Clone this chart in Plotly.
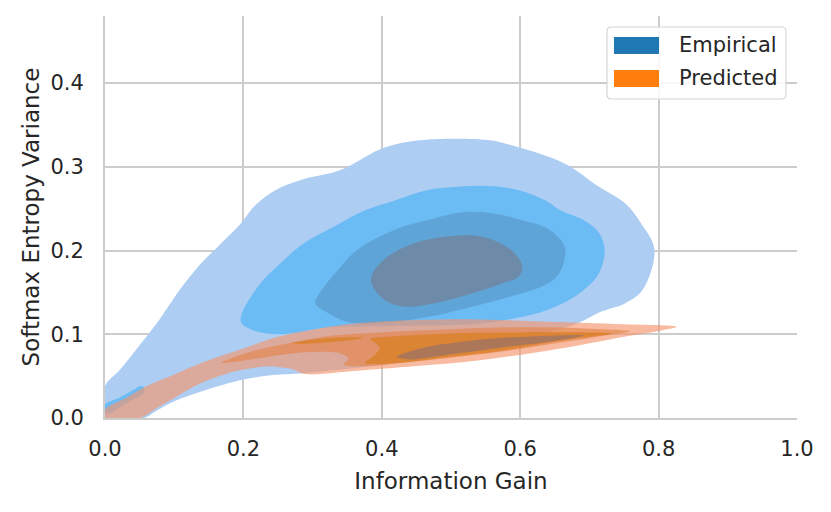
import plotly.graph_objects as go

# contour outlines (x = information gain, y = softmax entropy variance)
# Empirical, outermost level
emp_l1_x = [0, 0.022, 0.051, 0.079, 0.108, 0.137, 0.166, 0.195, 0.217, 0.246, 0.282, 0.340, 0.398, 0.448,
            0.553, 0.586, 0.664, 0.714, 0.752, 0.775, 0.794, 0.777, 0.752, 0.714, 0.686, 0.642, 0.586,
            0.476, 0.365, 0.28, 0.24, 0.2, 0.14, 0.10, 0.075, 0.056, 0]
emp_l1_y = [0.038, 0.058, 0.088, 0.118, 0.153, 0.183, 0.207, 0.231, 0.254, 0.272, 0.284, 0.296, 0.321, 0.331,
            0.332, 0.326, 0.304, 0.276, 0.256, 0.232, 0.201, 0.153, 0.137, 0.126, 0.114, 0.102, 0.088,
            0.072, 0.060, 0.053, 0.051, 0.046, 0.032, 0.020, 0.009, 0, 0]
# Empirical, level 2 (main body + small blob near the origin)
emp_l2_x = [0.196, 0.221, 0.254, 0.288, 0.332, 0.376, 0.420, 0.465, 0.509, 0.553, 0.598, 0.636, 0.658,
            0.692, 0.714, 0.722, 0.714, 0.686, 0.642, 0.586, 0.531, 0.420, 0.321, 0.254, 0.210]
emp_l2_y = [0.116, 0.157, 0.185, 0.209, 0.229, 0.248, 0.260, 0.272, 0.276, 0.277, 0.272, 0.260, 0.248,
            0.236, 0.221, 0.201, 0.173, 0.149, 0.130, 0.118, 0.112, 0.110, 0.108, 0.100, 0.106]
emp_blob_x = [0, 0, 0.02, 0.04, 0.05, 0.056, 0.056, 0.04, 0.02, 0.005]
emp_blob_y = [0.006, 0.016, 0.024, 0.033, 0.038, 0.037, 0.030, 0.022, 0.012, 0.005]
# Empirical, level 3
emp_l3_x = [0.304, 0.310, 0.337, 0.365, 0.420, 0.465, 0.520, 0.564, 0.603, 0.642, 0.664, 0.664, 0.653,
            0.631, 0.586, 0.531, 0.476, 0.409, 0.354, 0.321]
emp_l3_y = [0.137, 0.149, 0.177, 0.201, 0.225, 0.236, 0.246, 0.244, 0.236, 0.225, 0.205, 0.189, 0.169,
            0.157, 0.145, 0.133, 0.122, 0.114, 0.114, 0.126]
# Empirical, level 4
emp_l4_x = [0.385, 0.387, 0.409, 0.448, 0.498, 0.542, 0.570, 0.592, 0.603, 0.598, 0.575, 0.531, 0.476,
            0.432, 0.404]
emp_l4_y = [0.161, 0.173, 0.193, 0.209, 0.217, 0.217, 0.209, 0.197, 0.181, 0.169, 0.161, 0.149, 0.137,
            0.133, 0.141]

# Predicted, outermost level
pred_l1_x = [0, 0.03, 0.06, 0.10, 0.14, 0.20, 0.25, 0.31, 0.365, 0.45, 0.53, 0.64, 0.75, 0.826,
             0.80, 0.75, 0.686, 0.62, 0.542, 0.45, 0.36, 0.30, 0.285, 0.272, 0.25, 0.225, 0.19,
             0.14, 0.10, 0.075, 0.05, 0]
pred_l1_y = [0.010, 0.024, 0.038, 0.052, 0.066, 0.083, 0.097, 0.107, 0.113, 0.117, 0.118, 0.115, 0.112, 0.109,
             0.104, 0.097, 0.087, 0.078, 0.069, 0.062, 0.056, 0.052, 0.053, 0.058, 0.061, 0.061, 0.056,
             0.042, 0.024, 0.012, 0, 0]
# Predicted, level 2
pred_l2_x = [0.169, 0.21, 0.272, 0.33, 0.402, 0.50, 0.571, 0.65, 0.72, 0.759, 0.72, 0.65, 0.571, 0.50,
             0.43, 0.38, 0.345, 0.352, 0.34, 0.31, 0.27, 0.22]
pred_l2_y = [0.066, 0.079, 0.0905, 0.0985, 0.1025, 0.106, 0.108, 0.108, 0.106, 0.1035, 0.098, 0.089, 0.079, 0.072,
             0.066, 0.062, 0.064, 0.071, 0.077, 0.079, 0.077, 0.071]
# Predicted, level 3 (main body + thin streak)
pred_l3_x = [0.383, 0.426, 0.50, 0.571, 0.65, 0.71, 0.732, 0.70, 0.64, 0.571, 0.50, 0.44, 0.39, 0.376,
             0.388, 0.397, 0.392]
pred_l3_y = [0.094, 0.098, 0.101, 0.102, 0.1025, 0.102, 0.1007, 0.097, 0.090, 0.080, 0.073, 0.067, 0.0645, 0.066,
             0.074, 0.083, 0.089]
pred_streak_x = [0.27, 0.30, 0.34, 0.373, 0.35, 0.31, 0.28]
pred_streak_y = [0.0895, 0.0935, 0.096, 0.0958, 0.0925, 0.0895, 0.0885]
# Predicted, level 4
pred_l4_x = [0.422, 0.46, 0.51, 0.571, 0.63, 0.692, 0.65, 0.571, 0.50, 0.44]
pred_l4_y = [0.073, 0.084, 0.0905, 0.0955, 0.098, 0.0985, 0.092, 0.084, 0.076, 0.070]

series_names = ["Empirical", "Predicted"]
series_colors = ["#1f77b4", "#ff7f0e"]

fig = go.Figure()


def blob(xs, ys, color):
    fig.add_trace(go.Scatter(x=xs + xs[:1], y=ys + ys[:1], mode="lines", fill="toself",
                             fillcolor=color, line=dict(width=0, shape="spline", smoothing=1),
                             hoverinfo="skip", showlegend=False))


blob(emp_l1_x, emp_l1_y, "#adcdf3")
blob(emp_l2_x, emp_l2_y, "#6bbbf5")
blob(emp_blob_x, emp_blob_y, "#6bbbf5")
blob(emp_l3_x, emp_l3_y, "#5fa4d6")
blob(emp_l4_x, emp_l4_y, "#6d8ba8")

blob(pred_l1_x, pred_l1_y, "rgba(244,150,110,0.65)")
blob(pred_l2_x, pred_l2_y, "rgba(228,130,70,0.6)")
blob(pred_l3_x, pred_l3_y, "rgba(215,125,25,0.65)")
blob(pred_streak_x, pred_streak_y, "rgba(215,125,25,0.65)")
blob(pred_l4_x, pred_l4_y, "rgba(140,110,115,0.6)")

# legend drawn by hand (matplotlib style: wide patches in a rounded box)
shapes = []
x0, x1, y0, y1, r = 0.7254, 0.984, 0.7935, 0.9726, 0.006
ry = r * 692 / 402
shapes.append(dict(
    type="path", xref="paper", yref="paper", layer="above",
    path=(f"M{x0 + r},{y0} L{x1 - r},{y0} Q{x1},{y0} {x1},{y0 + ry} L{x1},{y1 - ry} Q{x1},{y1} {x1 - r},{y1} "
          f"L{x0 + r},{y1} Q{x0},{y1} {x0},{y1 - ry} L{x0},{y0 + ry} Q{x0},{y0} {x0 + r},{y0} Z"),
    fillcolor="rgba(255,255,255,0.85)", line=dict(color="#d6d6d6", width=1.2)))
annotations = []
for i, (name, col) in enumerate(zip(series_names, series_colors)):
    top = 0.9478 - i * 0.0821
    shapes.append(dict(type="rect", xref="paper", yref="paper", layer="above",
                       x0=0.7355, x1=0.8006, y0=top - 0.0423, y1=top,
                       fillcolor=col, line=dict(width=0)))
    annotations.append(dict(x=0.8266, y=top - 0.021, xref="paper", yref="paper", text=name,
                            showarrow=False, xanchor="left", yanchor="middle",
                            font=dict(size=21, color="#262626")))

fig.update_layout(
    width=831, height=512, autosize=False,
    margin=dict(l=105, r=34, t=16, b=94),
    plot_bgcolor="white", paper_bgcolor="white",
    font=dict(family="DejaVu Sans", color="#262626"),
    shapes=shapes, annotations=annotations,
    showlegend=False,
)
fig.update_xaxes(range=[0, 1], dtick=0.2, tickformat=".1f", showgrid=True, gridcolor="#cccccc",
                 gridwidth=1.6, zeroline=False, showline=True, linecolor="#cccccc", linewidth=1.8,
                 ticks="outside", ticklen=11, tickcolor="rgba(0,0,0,0)", tickfont=dict(size=21),
                 title=dict(text="Information Gain", font=dict(size=23), standoff=13))
fig.update_yaxes(range=[0, 0.48], dtick=0.1, tickformat=".1f", showgrid=True, gridcolor="#cccccc",
                 gridwidth=1.6, zeroline=False, showline=True, linecolor="#cccccc", linewidth=1.8,
                 ticks="outside", ticklen=15, tickcolor="rgba(0,0,0,0)", tickfont=dict(size=21),
                 title=dict(text="Softmax Entropy Variance", font=dict(size=23), standoff=4))

# the page's default body margin would shift the figure by 8px
fig.write_html("out.html", config={"displayModeBar": False},
               post_script="document.body.style.margin='0px';")
